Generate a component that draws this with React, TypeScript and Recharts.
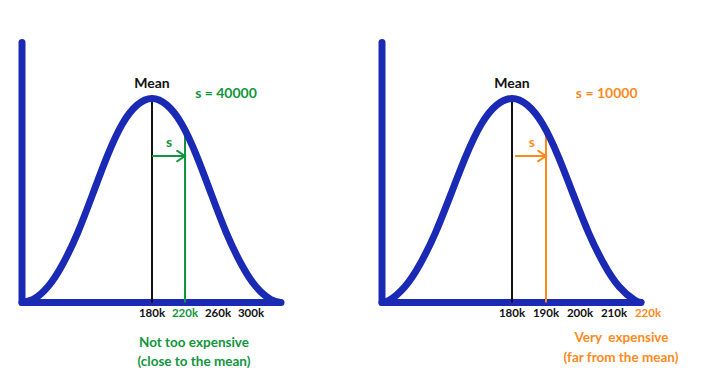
import React from 'react';
import { LineChart, Line, XAxis, YAxis, ReferenceLine, ReferenceDot } from 'recharts';

const FONT = 'Lato, "Open Sans", sans-serif';
const BLUE = '#1a2ab5';
const GREEN = '#10963c';
const ORANGE = '#ff8a1c';
const BLACK = '#111111';

// Left panel: house prices in k, spread s = 40000
const leftPrices = [22.4, 36, 54, 72, 90, 108, 126, 144, 162, 180, 198, 216, 234, 252, 270, 288, 306, 324, 336.4];
const leftDensity = [0.2, 1.5, 7.8, 19, 34.3, 53, 72, 87.5, 96.8, 100, 96.8, 87.5, 72, 53, 34.3, 19, 7.8, 1.5, 0];
const leftTicks = [180, 220, 260, 300];
const leftTickLabels = ['180k', '220k', '260k', '300k'];

// Right panel: house prices in k, spread s = 10000
const rightPrices = [141.76, 144, 148.5, 153, 157.5, 162, 166.5, 171, 175.5, 180, 184.5, 189, 193.5, 198, 202.5, 207, 211.5, 216, 217.94];
const rightDensity = [0.2, 1.2, 7.8, 19, 34.3, 53, 72, 87.5, 96.8, 100, 96.8, 87.5, 72, 53, 34.3, 19, 7.8, 1.2, 0];
const rightTicks = [180, 190, 200, 210, 220];
const rightTickLabels = ['180k', '190k', '200k', '210k', '220k'];

const Y_MAX = 127.45;

type PanelProps = {
  prices: number[];
  density: number[];
  domain: [number, number];
  axisEnd: number;
  rightMargin: number;
  ticks: number[];
  tickLabels: string[];
  highlightTick: number;
  mean: number;
  sValue: number;
  sTop: number;
  arrowStart: number;
  arrowY: number;
  sLabelX: number;
  sLabelY: number;
  sText: string;
  sTextX: number;
  sTextY: number;
  color: string;
  markerId: string;
  captions: { text: string; x: number; y: number }[];
};

function Panel(p: PanelProps) {
  const data = p.prices.map((x, i) => ({ x, y: p.density[i] }));
  const Tick = (props: any) => {
    const { x, y, payload } = props;
    const idx = p.ticks.indexOf(payload.value);
    return (
      <text
        x={x}
        y={y}
        dy="0.71em"
        textAnchor="middle"
        fontSize={11.5}
        fontWeight={700}
        fontFamily={FONT}
        fill={payload.value === p.highlightTick ? p.color : BLACK}
      >
        {p.tickLabels[idx]}
      </text>
    );
  };
  const txt = (value: string, fill: string, fontSize: number) => ({
    value,
    position: 'center' as const,
    fill,
    fontSize,
    fontWeight: 700,
    fontFamily: FONT,
  });
  return (
    <LineChart
      width={363}
      height={378}
      data={data}
      margin={{ top: 42.5, right: p.rightMargin, bottom: 45.5, left: 22 }}
    >
      <defs>
        <marker
          id={p.markerId}
          markerWidth={12}
          markerHeight={14}
          refX={9.5}
          refY={6.5}
          orient="auto"
          markerUnits="userSpaceOnUse"
        >
          <path d="M1,0.8 L9.5,6.5 L1,12.2" fill="none" stroke={p.color} strokeWidth={2} />
        </marker>
      </defs>
      <XAxis
        dataKey="x"
        type="number"
        domain={p.domain}
        allowDataOverflow
        ticks={p.ticks}
        tick={<Tick />}
        axisLine={false}
        tickLine={false}
        tickSize={6}
        tickMargin={0.5}
        height={30}
        interval={0}
      />
      <YAxis hide type="number" domain={[0, Y_MAX]} allowDataOverflow />
      {/* axes */}
      <ReferenceLine
        segment={[{ x: p.domain[0], y: 0 }, { x: p.domain[0], y: Y_MAX }]}
        stroke={BLUE}
        strokeWidth={7}
        strokeLinecap="round"
        ifOverflow="visible"
      />
      <ReferenceLine
        segment={[{ x: p.domain[0], y: 0 }, { x: p.axisEnd, y: 0 }]}
        stroke={BLUE}
        strokeWidth={7}
        strokeLinecap="round"
        ifOverflow="visible"
      />
      {/* mean line */}
      <ReferenceLine
        segment={[{ x: p.mean, y: 0 }, { x: p.mean, y: 100 }]}
        stroke={BLACK}
        strokeWidth={2}
        ifOverflow="visible"
      />
      {/* s line */}
      <ReferenceLine
        segment={[{ x: p.sValue, y: 0 }, { x: p.sValue, y: p.sTop }]}
        stroke={p.color}
        strokeWidth={2}
        ifOverflow="visible"
      />
      {/* arrow */}
      <ReferenceLine
        segment={[{ x: p.arrowStart, y: p.arrowY }, { x: p.sValue, y: p.arrowY }]}
        stroke={p.color}
        strokeWidth={2}
        markerEnd={`url(#${p.markerId})`}
        ifOverflow="visible"
      />
      <Line
        type="natural"
        dataKey="y"
        stroke={BLUE}
        strokeWidth={7}
        strokeLinecap="round"
        strokeLinejoin="round"
        dot={false}
        activeDot={false}
        isAnimationActive={false}
      />
      <ReferenceDot x={p.mean} y={107.5} r={0} fill="none" stroke="none" ifOverflow="visible" label={txt('Mean', BLACK, 14)} />
      <ReferenceDot x={p.sLabelX} y={p.sLabelY} r={0} fill="none" stroke="none" ifOverflow="visible" label={txt('s', p.color, 14)} />
      <ReferenceDot x={p.sTextX} y={p.sTextY} r={0} fill="none" stroke="none" ifOverflow="visible" label={txt(p.sText, p.color, 14)} />
      {p.captions.map((c, i) => (
        <ReferenceDot key={i} x={c.x} y={c.y} r={0} fill="none" stroke="none" ifOverflow="visible" label={txt(c.text, p.color, 13.5)} />
      ))}
    </LineChart>
  );
}

export default function App() {
  return (
    <div style={{ position: 'absolute', left: 0, top: 0, width: 726, height: 378, background: '#ffffff' }}>
      <div style={{ position: 'absolute', left: 0, top: 0 }}>
        <Panel
          prices={leftPrices}
          density={leftDensity}
          domain={[22.4, 336.4]}
          axisEnd={336.4}
          rightMargin={82}
          ticks={leftTicks}
          tickLabels={leftTickLabels}
          highlightTick={220}
          mean={180}
          sValue={220}
          sTop={86}
          arrowStart={180}
          arrowY={71.8}
          sLabelX={200.6}
          sLabelY={78.8}
          sText="s = 40000"
          sTextX={269.7}
          sTextY={102.7}
          color={GREEN}
          markerId="arrowGreen"
          captions={[
            { text: 'Not too expensive', x: 230.9, y: -19.7 },
            { text: '(close to the mean)', x: 230.9, y: -29.0 },
          ]}
        />
      </div>
      <div style={{ position: 'absolute', left: 360, top: 0 }}>
        <Panel
          prices={rightPrices}
          density={rightDensity}
          domain={[141.76, 221]}
          axisEnd={217.94}
          rightMargin={71.6}
          ticks={rightTicks}
          tickLabels={rightTickLabels}
          highlightTick={220}
          mean={180}
          sValue={190}
          sTop={84}
          arrowStart={180.9}
          arrowY={71.8}
          sLabelX={185.8}
          sLabelY={78.8}
          sText="s = 10000"
          sTextX={207.85}
          sTextY={102.8}
          color={ORANGE}
          markerId="arrowOrange"
          captions={[
            { text: 'Very\u00A0 expensive', x: 212.2, y: -17.1 },
            { text: '(far from the mean)', x: 212.06, y: -26.6 },
          ]}
        />
      </div>
    </div>
  );
}
